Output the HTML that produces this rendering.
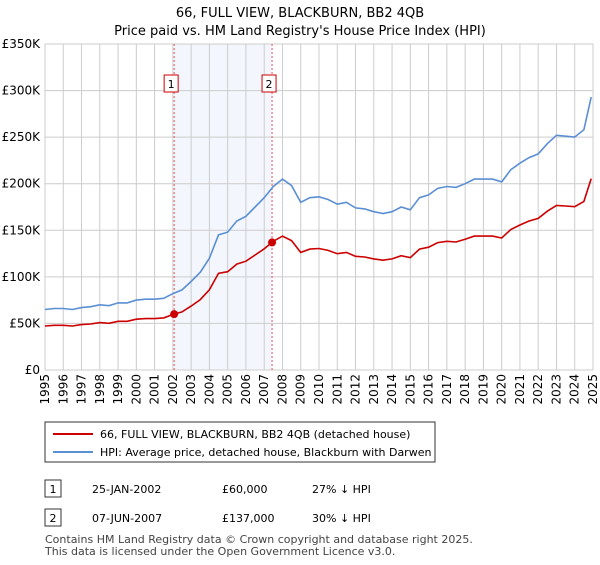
<!DOCTYPE html>
<html><head><meta charset="utf-8"><style>
body{margin:0;width:600px;height:560px;background:#fff;font-family:"Liberation Sans","DejaVu Sans",sans-serif;color:#222;overflow:hidden}
svg text{font-family:"DejaVu Sans","Liberation Sans",sans-serif}
</style></head><body>
<svg id="c" width="600" height="560">
<text x="300" y="17" text-anchor="middle" font-size="13">66, FULL VIEW, BLACKBURN, BB2 4QB</text>
<text x="300" y="35" text-anchor="middle" font-size="13">Price paid vs. HM Land Registry's House Price Index (HPI)</text>
<g id="plot"></g>
<rect x="45" y="422" width="390" height="40" fill="#fff" stroke="#333"/>
<line x1="53" y1="434" x2="93" y2="434" stroke="#cc0000" stroke-width="2"/>
<text x="100" y="438" font-size="11">66, FULL VIEW, BLACKBURN, BB2 4QB (detached house)</text>
<line x1="53" y1="452" x2="93" y2="452" stroke="#5b8fd4" stroke-width="2"/>
<text x="100" y="456" font-size="11">HPI: Average price, detached house, Blackburn with Darwen</text>
<g>
<rect x="45" y="480" width="16" height="17" fill="#fff" stroke="#333"/><text x="53" y="493" font-size="11" text-anchor="middle">1</text>
<text x="92" y="493" font-size="11">25-JAN-2002</text><text x="222" y="493" font-size="11">£60,000</text><text x="312" y="493" font-size="11">27% ↓ HPI</text></g>
<g>
<rect x="45" y="509" width="16" height="17" fill="#fff" stroke="#333"/><text x="53" y="522" font-size="11" text-anchor="middle">2</text>
<text x="92" y="522" font-size="11">07-JUN-2007</text><text x="222" y="522" font-size="11">£137,000</text><text x="312" y="522" font-size="11">30% ↓ HPI</text></g>
<text x="45" y="543" font-size="11" fill="#444">Contains HM Land Registry data © Crown copyright and database right 2025.</text>
<text x="45" y="555" font-size="11" fill="#444">This data is licensed under the Open Government Licence v3.0.</text>
</svg>
<script>
const years=[1995,1995.5,1996,1996.5,1997,1997.5,1998,1998.5,1999,1999.5,2000,2000.5,2001,2001.5,2002,2002.5,2003,2003.5,2004,2004.5,2005,2005.5,2006,2006.5,2007,2007.5,2008,2008.5,2009,2009.5,2010,2010.5,2011,2011.5,2012,2012.5,2013,2013.5,2014,2014.5,2015,2015.5,2016,2016.5,2017,2017.5,2018,2018.5,2019,2019.5,2020,2020.5,2021,2021.5,2022,2022.5,2023,2023.5,2024,2024.5,2024.9];
const hpi=[65,66,66,65,67,68,70,69,72,72,75,76,76,77,82,86,95,105,120,145,148,160,165,175,185,197,205,198,180,185,186,183,178,180,174,173,170,168,170,175,172,185,188,195,197,196,200,205,205,205,202,215,222,228,232,243,252,251,250,258,293];
const saleYears=[2002.07,2007.43];
const salePrices=[60,137];
const saleLabels=["1","2"];
const yTicks=[0,50,100,150,200,250,300,350];
const yTickLabels=["£0","£50K","£100K","£150K","£200K","£250K","£300K","£350K"];
const xTicks=[];for(let y=1995;y<=2025;y++)xTicks.push(y);
const X=v=>45+(v-1995)*(548/30), Y=v=>370-v*(326/350);
const g=document.getElementById('plot'),NS='http://www.w3.org/2000/svg';
function mk(t,a,p){const e=document.createElementNS(NS,t);for(const k in a)e.setAttribute(k,a[k]);(p||g).appendChild(e);return e;}
let r=mk('rect',{x:X(saleYears[0]),y:44,width:X(saleYears[1])-X(saleYears[0]),height:326,fill:'#eef3fc',opacity:0.7});


xTicks.forEach(t=>{let l=mk('line',{x1:X(t),x2:X(t),y1:44,y2:370,stroke:'#ccc'});


const xx=X(t)+4,yy=374;
let tx=mk('text',{x:xx,y:yy,'font-size':12,'text-anchor':'end',transform:`rotate(-90 ${xx} ${yy})`});tx.textContent=t;

});
yTicks.forEach((t,i)=>{let l=mk('line',{x1:45,x2:593,y1:Y(t),y2:Y(t),stroke:'#ccc'});


let tx=mk('text',{x:40,y:Y(t)+4,'font-size':12,'text-anchor':'end'});tx.textContent=yTickLabels[i];

});
function hpiAt(y){for(let i=1;i<years.length;i++)if(y<=years[i]){const f=(y-years[i-1])/(years[i]-years[i-1]);return hpi[i-1]+f*(hpi[i]-hpi[i-1]);}return hpi[hpi.length-1];}
const r1=salePrices[0]/hpiAt(saleYears[0]),r2=salePrices[1]/hpiAt(saleYears[1]);
saleYears.forEach((s,i)=>{let l=mk('line',{x1:X(s),x2:X(s),y1:44,y2:370,stroke:'#e55','stroke-dasharray':'2,2'});


let b=mk('rect',{x:X(s)-10,y:75,width:14,height:17,fill:'#fff',stroke:'#cc0000'});


let t=mk('text',{x:X(s)-3,y:88,'font-size':11,'text-anchor':'middle'});t.textContent=saleLabels[i];

});
let pb=mk('path',{d:years.map((y,i)=>(i?'L':'M')+X(y).toFixed(1)+','+Y(hpi[i]).toFixed(1)).join(''),fill:'none',stroke:'#5b8fd4','stroke-width':1.6});


const red=years.map((y,i)=>{let rt=y<=saleYears[0]?r1:y>=saleYears[1]?r2:r1+(r2-r1)*(y-saleYears[0])/(saleYears[1]-saleYears[0]);return hpi[i]*rt;});
let pr=mk('path',{d:years.map((y,i)=>(i?'L':'M')+X(y).toFixed(1)+','+Y(red[i]).toFixed(1)).join(''),fill:'none',stroke:'#cc0000','stroke-width':1.6});


saleYears.forEach((s,i)=>{let c=mk('circle',{cx:X(s),cy:Y(salePrices[i]),r:4,fill:'#cc0000'});

});
</script>
</body></html>
